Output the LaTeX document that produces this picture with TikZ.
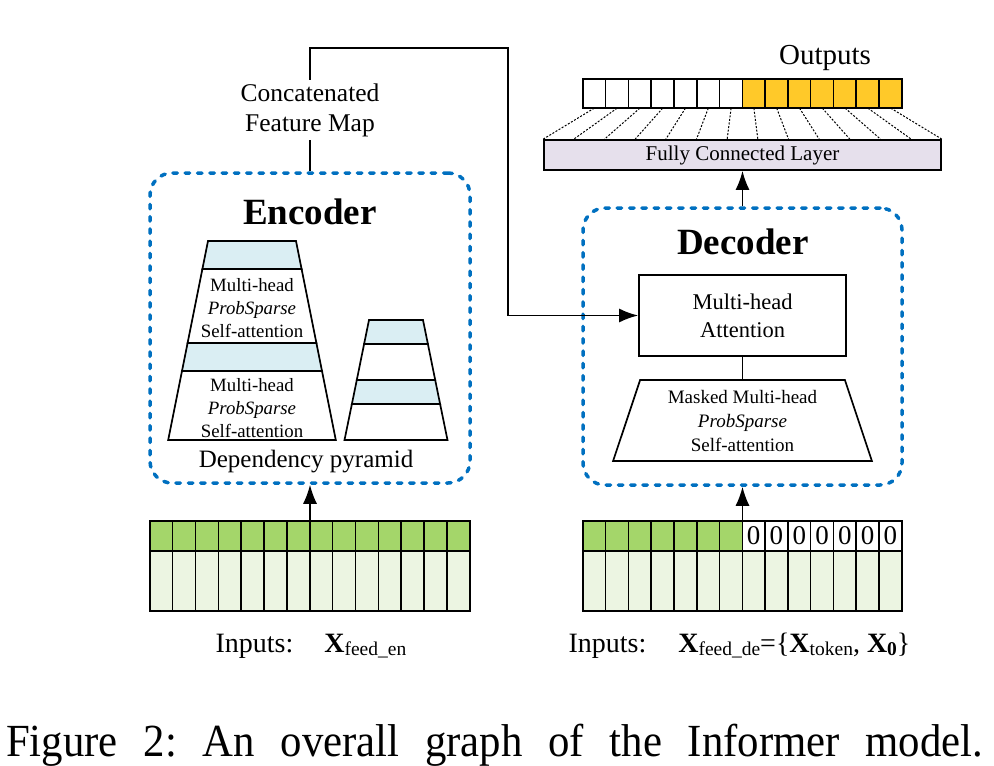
\documentclass[tikz,border=0pt]{standalone}
\usepackage{fontspec}
\setmainfont{Liberation Serif}
\newfontfamily\capfont[FakeStretch=0.93]{Liberation Serif}
\usepackage{tikz}
\usetikzlibrary{arrows.meta}
\usetikzlibrary{calc}
\usetikzlibrary{shapes.geometric}
\definecolor{encblue}{RGB}{0,112,192}
\definecolor{bandblue}{RGB}{218,238,243}
\definecolor{fcpurple}{RGB}{230,224,236}
\definecolor{outyellow}{RGB}{255,201,41}
\definecolor{ingreen}{RGB}{164,214,106}
\definecolor{inlight}{RGB}{236,245,226}
\newcommand\subsz{\fontsize{19.5}{20}\selectfont}
\tikzset{
    >={Latex[length=19pt,width=14pt]},
    dashbox/.style={draw=encblue, line width=3.5pt, dash pattern=on 4.5pt off 7.8pt, line cap=round, rounded corners=22pt, inner sep=0pt},
    plainbox/.style={draw=black, line width=1.7pt, inner sep=0pt},
    wire/.style={draw=black, line width=1.7pt},
    cell/.style={draw=black, line width=1.6pt},
    dotline/.style={line width=1pt, dash pattern=on 2pt off 1.6pt},
    titletext/.style={font=\fontsize{37}{40}\selectfont\bfseries},
    stacktext/.style={align=center, font=\fontsize{18.8}{23}\selectfont},
    labeltext/.style={align=center, font=\fontsize{25}{30}\selectfont}}

\begin{document}
\begin{tikzpicture}[x=1pt,y=-1pt]
            \useasboundingbox (0,0) rectangle (994,766);

            % encoder
            \node[dashbox, minimum width=320pt, minimum height=310pt] (enc) at (310,328) {};
            \node[titletext] (enctitle) at (310,212) {Encoder};
            \foreach \cx/\ya/\yb/\wa/\wb/\col in {252/241/269/44/49.6/bandblue, 252/269/343/49.6/64.4/white, 252/343/371/64.4/70/bandblue, 252/371/440/70/83.8/white, 396/320/344/27/31.9/bandblue, 396/344/380/31.9/39.2/white, 396/380/404/39.2/44.1/bandblue, 396/404/440/44.1/51.5/white}
                \draw[cell, line width=1.7pt, fill=\col] (\cx-\wa,\ya) -- (\cx+\wa,\ya) -- (\cx+\wb,\yb) -- (\cx-\wb,\yb) -- cycle;
            \node[stacktext] (att1) at (252,308) {Multi-head\\\textit{ProbSparse}\\Self-attention};
            \node[stacktext] (att2) at (252,408) {Multi-head\\\textit{ProbSparse}\\Self-attention};
            \node[labeltext] (dep) at (306,462) {Dependency pyramid};

            % decoder
            \node[dashbox, minimum width=319pt, minimum height=277pt] (dec) at (742.5,346.5) {};
            \node[titletext] (dectitle) at (743,242) {Decoder};
            \node[plainbox, minimum width=207pt, minimum height=81pt, align=center, font=\fontsize{22.5}{28}\selectfont] (mha) at (742.5,315.5) {Multi-head\\Attention};
            \node[plainbox, shape=trapezium, trapezium left angle=72.2, trapezium right angle=72.2, trapezium stretches=true, minimum width=259pt, minimum height=81pt, align=center, font=\fontsize{19}{24}\selectfont] (msa) at (742.5,420.5) {Masked Multi-head\\\textit{ProbSparse}\\Self-attention};
            \draw[wire] (mha) -- (msa);

            % output layer
            \node[plainbox, fill=fcpurple, minimum width=397pt, minimum height=30pt, font=\fontsize{21}{22}\selectfont] (fc) at (742.5,155) {Fully Connected Layer};
            \node[inner sep=0pt, minimum width=319pt, minimum height=29pt] (out) at (742.5,93.5) {};
            \foreach \i in {0,...,6}
                \draw[cell, fill=white] ($(out.north west)+(\i*22.786,0)$) rectangle ++(22.786,29);
            \foreach \i in {7,...,13}
                \draw[cell, fill=outyellow] ($(out.north west)+(\i*22.786,0)$) rectangle ++(22.786,29);
            \foreach \i in {0,...,13}
                \draw[dotline] ($(out.south west)!{(\i+0.5)/14}!(out.south east)$) -- ($(fc.north west)!{\i/13}!(fc.north east)$);
            \node[font=\fontsize{29}{30}\selectfont] (outlbl) at (825,58) {Outputs};
            \draw[wire, ->] (dec.north) -- (fc.south);

            % feature map wire
            \node[labeltext, font=\fontsize{25.5}{30}\selectfont] (cfm) at (310,110) {Concatenated\\Feature Map};
            \coordinate (bend) at (508,48);
            \draw[wire] (enc.north) -- (cfm.south);
            \draw[wire, ->] (cfm.north) |- (bend) |- (mha.west);

            % inputs
            \node[inner sep=0pt, minimum width=320pt, minimum height=90pt] (encin) at (310,566) {};
            \foreach \i in {0,...,13} {
                \draw[cell, fill=ingreen] ($(encin.north west)+(\i*22.857,0)$) rectangle ++(22.857,30);
                \draw[cell, fill=inlight] ($(encin.north west)+(\i*22.857,30)$) rectangle ++(22.857,60);
            }
            \node[inner sep=0pt, minimum width=319pt, minimum height=90pt] (decin) at (742.5,566) {};
            \foreach \i in {0,...,13}
                \draw[cell, fill=inlight] ($(decin.north west)+(\i*22.786,30)$) rectangle ++(22.786,60);
            \foreach \i in {0,...,6}
                \draw[cell, fill=ingreen] ($(decin.north west)+(\i*22.786,0)$) rectangle ++(22.786,30);
            \foreach \i in {7,...,13}
                \node[cell, fill=white, inner sep=0pt, minimum width=22.786pt, minimum height=30pt, font=\fontsize{27}{28}\selectfont] (zero\i) at ($(decin.north west)+(\i*22.786+11.393,15)$) {0};
            \draw[wire, ->] (encin.north) -- (enc.south);
            \draw[wire, ->] (decin.north) -- (dec.south);

            \node[anchor=base west, font=\fontsize{28}{30}\selectfont] (enclbl) at (212,652) {Inputs:\hspace{31pt}\textbf{X}\raisebox{-3pt}{\subsz feed\_en}};
            \node[anchor=base west, font=\fontsize{28}{30}\selectfont] (declbl) at (565,652) {Inputs:\hspace{32pt}\textbf{X}\raisebox{-3pt}{\subsz feed\_de}=\{\textbf{X}\raisebox{-3pt}{\subsz token}, \textbf{X}\raisebox{-3pt}{\subsz\textbf{0}}\}};

            % caption
            \node[anchor=base west, inner sep=0pt] (caption) at (6,756) {\frenchspacing\capfont\fontsize{46}{50}\selectfont\makebox[977pt][s]{Figure 2: An overall graph of the Informer model.}};

        \end{tikzpicture}
\end{document}
